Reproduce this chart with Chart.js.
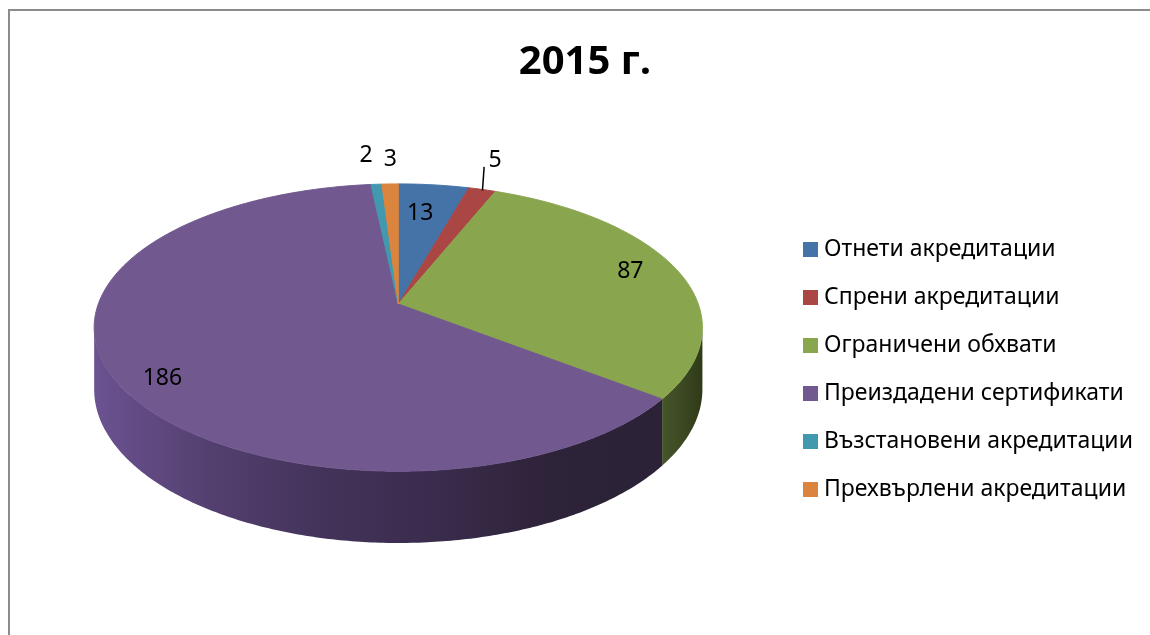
<!DOCTYPE html>
<html>
<head>
<meta charset="utf-8">
<title>2015 г.</title>
<script src="https://cdn.jsdelivr.net/npm/chart.js@4/dist/chart.umd.js"></script>
<style>
html, body { margin: 0; padding: 0; background: #fff; overflow: hidden; }
#wrap { position: relative; width: 1150px; height: 635px; overflow: hidden; }
#frame { position: absolute; left: 8px; top: 9px; width: 1200px; height: 700px; border: 2px solid #8c8c8c; }
#chart { position: absolute; left: 0; top: 0; }
</style>
</head>
<body>
<div id="wrap">
    <div id="frame"></div>
    <canvas id="chart" width="1150" height="635"></canvas>
</div>
<script>
var categories = ['Отнети акредитации', 'Спрени акредитации', 'Ограничени обхвати', 'Преиздадени сертификати', 'Възстановени акредитации', 'Прехвърлени акредитации'];
var values = [13, 5, 87, 186, 2, 3];
var colors = ['#4572a7', '#aa4643', '#89a54e', '#71588f', '#4198af', '#db843d'];

// side wall shades, left to right
var wallShades = {
    2: ['#46552a', '#3c4822', '#2f3a18'],
    3: ['#6b5291', '#544070', '#43335a', '#3a2c4d', '#2e2339', '#2b2238']
};

// where the value labels sit: fraction of radius, then a small nudge in px
var labelRadius = [0.73, 1.3, 0.83, 0.84, 1.3, 1.25];
var labelNudgeX = [-5, -8, 0, 0, -5, 2];
var labelNudgeY = [0, 0, -3, 13, 1, 0];

var tilt = 0.466;      // vertical squash of the disc
var persp = 0.164;     // near side looks bigger
var depth = 0.2;       // wall height, fraction of radius

function project(arc, angle, r, z) {
    var X = r * Math.cos(angle), Y = r * Math.sin(angle);
    var w = 1 - persp * Y;
    return {
        x: arc.x + arc.outerRadius * X / w,
        y: arc.y + arc.outerRadius * (tilt * Y + z) / w
    };
}

function traceRim(ctx, arc, from, to, z) {
    var steps = Math.max(2, Math.ceil(Math.abs(to - from) * 90));
    for (var s = 0; s <= steps; s++) {
        var p = project(arc, from + (to - from) * s / steps, 1, z);
        ctx.lineTo(p.x, p.y);
    }
}

var pie3d = {
    id: 'pie3d',
    afterLayout: function(chart) {
        // legend and title are a bit off from where the layout puts them
        var l = chart.legend;
        var dx = 783.5 - l.left, dy = 118.5;
        l.left += dx; l.right += dx; l.top += dy; l.bottom += dy;
        var t = chart.titleBlock;
        var tx = 585 - (t.left + t.right) / 2;
        t.left += tx; t.right += tx;
    },
    beforeDatasetsDraw: function(chart) {
        var ctx = chart.ctx;
        var arcs = chart.getDatasetMeta(0).data;
        var edge = Math.asin(persp);   // where the rim is widest on screen
        ctx.save();
        // walls first, only the part facing the viewer
        arcs.forEach(function(arc, i) {
            var lo = Math.max(arc.startAngle, edge), hi = Math.min(arc.endAngle, Math.PI - edge);
            if (lo >= hi) return;
            var shades = wallShades[i] || [colors[i]];
            var xa = Infinity, xb = -Infinity;
            for (var a = lo; a <= hi; a += 0.01) {
                var q = project(arc, a, 1, 0);
                xa = Math.min(xa, q.x); xb = Math.max(xb, q.x);
            }
            var grad = ctx.createLinearGradient(xa, 0, xb, 0);
            shades.forEach(function(c, n) { grad.addColorStop(n / (shades.length - 1), c); });
            ctx.beginPath();
            traceRim(ctx, arc, lo, hi, 0);
            traceRim(ctx, arc, hi, lo, depth);
            ctx.closePath();
            ctx.fillStyle = grad;
            ctx.fill();
        });
        // top face
        arcs.forEach(function(arc, i) {
            ctx.beginPath();
            ctx.moveTo(arc.x, arc.y);
            traceRim(ctx, arc, arc.startAngle, arc.endAngle, 0);
            ctx.closePath();
            ctx.fillStyle = colors[i];
            ctx.strokeStyle = colors[i];
            ctx.lineWidth = 1;
            ctx.fill();
            ctx.stroke();
        });
        // value labels
        ctx.fillStyle = '#000';
        ctx.font = '23px "Noto Sans"';
        ctx.textAlign = 'center';
        ctx.textBaseline = 'middle';
        arcs.forEach(function(arc, i) {
            var mid = (arc.startAngle + arc.endAngle) / 2;
            var p = project(arc, mid, labelRadius[i], 0);
            ctx.fillText(String(values[i]), p.x + labelNudgeX[i], p.y + labelNudgeY[i]);
            if (i == 1) {
                // only the small red slice gets a leader line
                var e = project(arc, mid, 0.99, 0);
                ctx.beginPath();
                ctx.moveTo(p.x + labelNudgeX[i] - 11, p.y + 6);
                ctx.lineTo(e.x + 1, e.y);
                ctx.strokeStyle = '#000';
                ctx.lineWidth = 1.5;
                ctx.stroke();
            }
        });
        ctx.restore();
        return false;
    }
};

function swatch(color) {
    var c = document.createElement('canvas');
    c.width = 15; c.height = 15;
    var g = c.getContext('2d');
    g.fillStyle = color;
    g.fillRect(0, 0, 15, 15);
    return c;
}

new Chart(document.getElementById('chart'), {
    type: 'pie',
    data: {
        labels: categories,
        datasets: [{ data: values, backgroundColor: colors, borderWidth: 0, radius: 300 }]
    },
    plugins: [pie3d],
    options: {
        responsive: false,
        animation: false,
        layout: { padding: { left: 6, right: 0, top: 0, bottom: 134 } },
        plugins: {
            tooltip: { enabled: false },
            title: {
                display: true,
                text: '2015 г.',
                color: '#000',
                font: { family: '"Open Sans"', size: 40, weight: 'bold' },
                padding: { top: 39, bottom: 20 }
            },
            legend: {
                position: 'right',
                labels: {
                    color: '#000',
                    font: { family: '"Noto Sans"', size: 23 },
                    usePointStyle: true,
                    pointStyleWidth: 4,
                    boxHeight: 23,
                    padding: 25,
                    generateLabels: function(chart) {
                        return categories.map(function(name, i) {
                            return { text: name, fillStyle: colors[i], pointStyle: swatch(colors[i]), lineWidth: 0, strokeStyle: colors[i], index: i };
                        });
                    }
                }
            }
        }
    }
});
</script>
</body>
</html>
